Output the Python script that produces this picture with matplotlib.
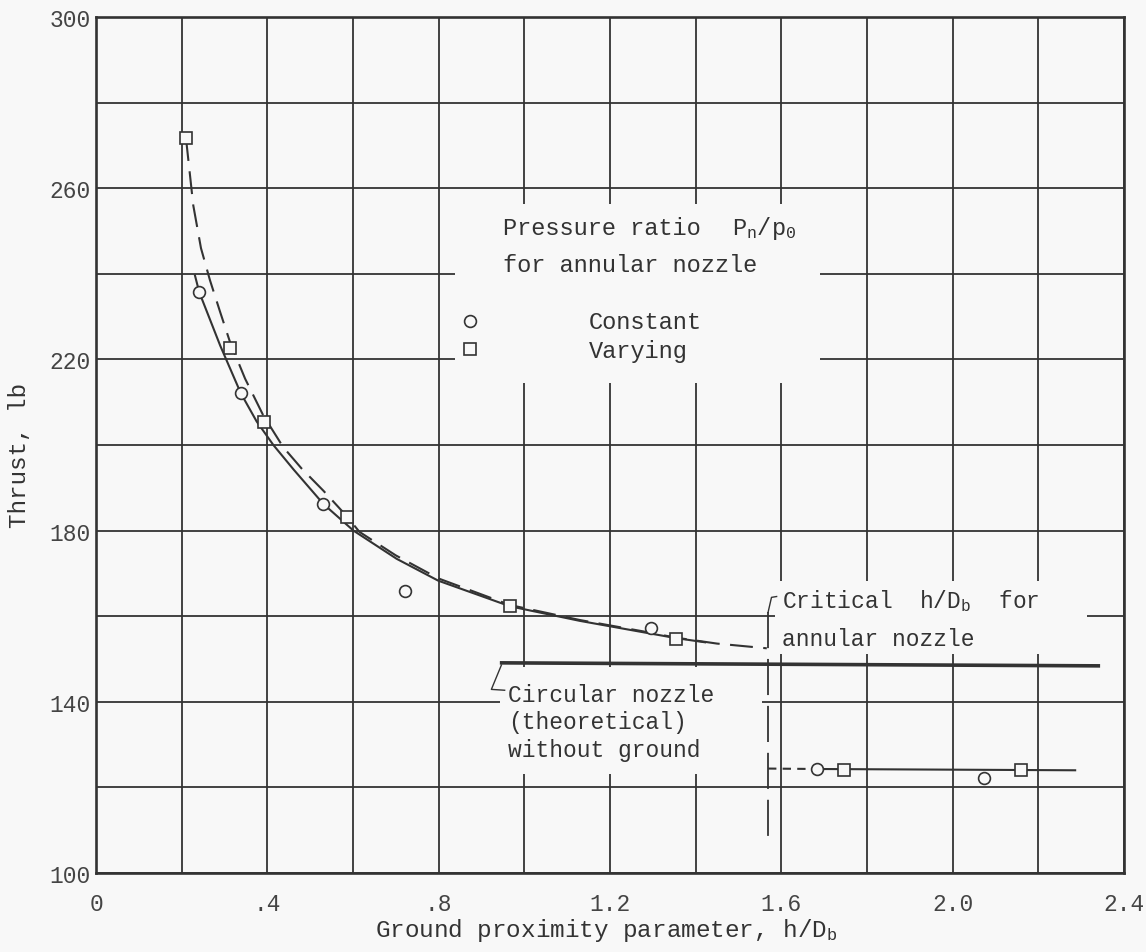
import numpy as np
import matplotlib
matplotlib.use("Agg")
import matplotlib.pyplot as plt
from matplotlib.patches import Rectangle

# data
const_x = [0.241, 0.338, 0.531, 0.721, 1.295, 1.684, 2.072]
const_y = [235.7, 212.1, 186.2, 166.0, 157.2, 124.3, 122.2]

vary_x = [0.21, 0.313, 0.391, 0.585, 0.967, 1.353, 1.747, 2.16]
vary_y = [271.7, 222.6, 205.3, 183.1, 162.3, 154.7, 124.1, 124.1]

# faired curves
solid_x = [0.231, 0.241, 0.29, 0.338, 0.375, 0.414, 0.461, 0.531, 0.601, 0.702,
           0.799, 0.897, 0.967, 1.13, 1.286, 1.353, 1.422]
solid_y = [239.6, 235.7, 223.2, 212.1, 205.5, 200.0, 194.3, 186.2, 180.0, 173.4,
           168.3, 164.8, 162.3, 158.9, 156.1, 154.9, 153.9]

dash_x = [0.21, 0.227, 0.245, 0.266, 0.29, 0.313, 0.348, 0.39, 0.437, 0.48, 0.531,
          0.585, 0.615, 0.70, 0.80, 0.967, 1.13, 1.286, 1.353, 1.45, 1.566]
dash_y = [271.7, 256.0, 246.0, 238.5, 231.0, 224.0, 215.5, 207.0, 199.5, 194.5, 189.3,
          183.4, 179.7, 174.2, 168.8, 162.6, 159.1, 156.3, 155.0, 153.6, 152.5]

# circular nozzle, theoretical, without ground
circ_x = [0.947, 2.34]
circ_y = [149.1, 148.4]

# critical h/Db
crit_x = [1.569, 1.569]
crit_y = [160.9, 106.8]

# beyond critical
far_x = [1.684, 2.286]
far_y = [124.3, 124.0]
far_dash_x = [1.569, 1.684]
far_dash_y = [124.4, 124.3]

xticks = np.arange(0, 2.41, 0.2)
xlabels = ['0', '', '.4', '', '.8', '', '1.2', '', '1.6', '', '2.0', '', '2.4']
yticks = np.arange(100, 301, 20)
ylabels = ['100', '', '140', '', '180', '', '220', '', '260', '', '300']

ink = '#333333'
bg = '#f8f8f8'
fs = 16.5

plt.rcParams['font.family'] = ['Liberation Mono', 'DejaVu Sans Mono']
plt.rcParams['mathtext.default'] = 'regular'

fig = plt.figure(figsize=(11.46, 9.53), dpi=100, facecolor=bg)
ax = fig.add_axes([0.0838, 0.0829, 0.897, 0.8982], facecolor=bg)

ax.set_xlim(0, 2.4)
ax.set_ylim(100, 300)
ax.set_xticks(xticks)
ax.set_xticklabels(xlabels)
ax.set_yticks(yticks)
ax.set_yticklabels(ylabels)
ax.tick_params(length=0, labelsize=fs, colors='#444444')
ax.tick_params(axis='x', pad=14)
ax.tick_params(axis='y', pad=4)
ax.set_axisbelow(True)
ax.grid(True, color=ink, linewidth=1.3)
for s in ax.spines.values():
    s.set_color(ink)
    s.set_linewidth(1.9)

# blank areas behind the labels
for (x0, y0, w, h) in [(0.838, 214.5, 0.852, 41.8),
                       (0.944, 123.1, 0.611, 25.0),
                       (1.585, 151.2, 0.729, 17.0)]:
    ax.add_patch(Rectangle((x0, y0), w, h, facecolor=bg, edgecolor='none', zorder=1))

ax.plot(solid_x, solid_y, color=ink, lw=1.5, zorder=2)
ax.plot(dash_x, dash_y, color=ink, lw=1.5, dashes=(11, 5), zorder=2)
ax.plot(circ_x, circ_y, color=ink, lw=2.6, zorder=2)
ax.plot(crit_x, crit_y, color=ink, lw=1.3, dashes=(20, 6), zorder=2)
ax.plot(far_x, far_y, color=ink, lw=1.5, zorder=2)
ax.plot(far_dash_x, far_dash_y, color=ink, lw=1.5, dashes=(4, 3), zorder=2)

mk = dict(linestyle='none', markersize=8.5, markerfacecolor=bg,
          markeredgecolor=ink, markeredgewidth=1.2, zorder=3)
ax.plot(const_x, const_y, marker='o', **mk)
ax.plot(vary_x, vary_y, marker='s', **mk)

# legend block
ax.plot([0.873], [229.0], marker='o', **mk)
ax.plot([0.873], [222.4], marker='s', **mk)
ax.text(0.951, 250.9, 'Pressure ratio', fontsize=17, color=ink, va='center')
ax.text(1.484, 250.9, 'P$_n$/p$_0$', fontsize=17, color=ink, va='center')
ax.text(0.951, 242.1, 'for annular nozzle', fontsize=17, color=ink, va='center')
ax.text(1.151, 228.9, 'Constant', fontsize=17, color=ink, va='center')
ax.text(1.151, 222.0, 'Varying', fontsize=17, color=ink, va='center')

# leaders
ax.plot([0.9465, 0.923, 0.954], [148.6, 142.9, 142.7], color=ink, lw=1.0, zorder=2)
ax.plot([1.569, 1.577, 1.589], [160.9, 164.4, 164.6], color=ink, lw=1.0, zorder=2)

ax.text(0.962, 141.8, 'Circular nozzle', fontsize=fs, color=ink, va='center')
ax.text(0.962, 135.4, '(theoretical)', fontsize=fs, color=ink, va='center')
ax.text(0.962, 128.8, 'without ground', fontsize=fs, color=ink, va='center')

ax.text(1.601, 163.8, 'Critical  h/D$_b$  for', fontsize=fs, color=ink, va='center')
ax.text(1.601, 154.7, 'annular nozzle', fontsize=fs, color=ink, va='center')

fig.text(0.529, 1 - 931 / 953, 'Ground proximity parameter, h/D$_b$', fontsize=17.5,
         color=ink, ha='center', va='center')
fig.text(20 / 1146, 1 - 455 / 953, 'Thrust, lb', fontsize=17.5, color=ink,
         ha='center', va='center', rotation=90)

fig.savefig('out.png', dpi=100, facecolor=bg)
